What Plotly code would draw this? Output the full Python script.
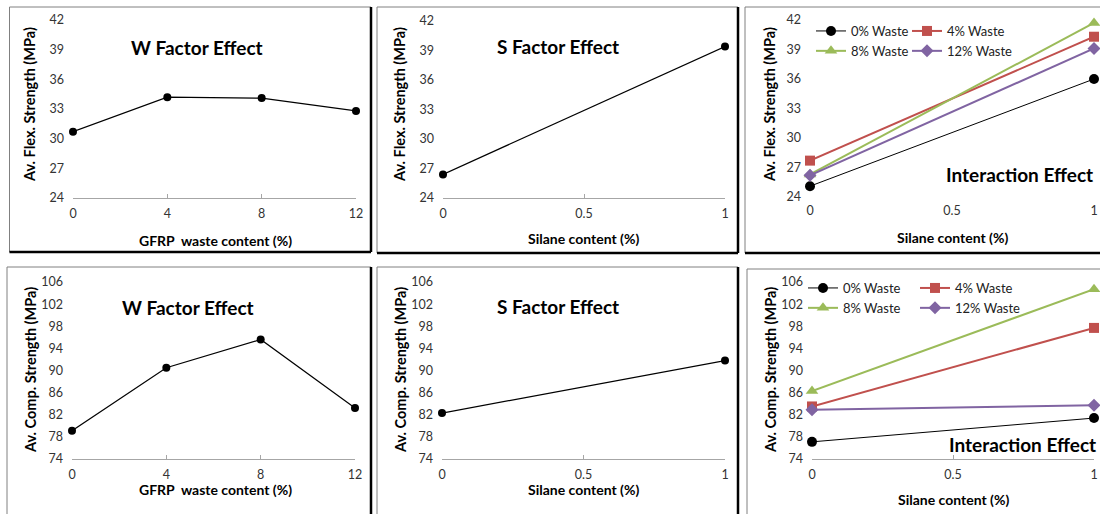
import plotly.graph_objects as go

# ---------------- data ----------------
waste_pct = [0, 4, 8, 12]
silane_pct = [0, 1]

flex_w_effect = [30.7, 34.2, 34.1, 32.8]
flex_s_effect = [26.4, 39.4]
comp_w_effect = [79.1, 90.5, 95.6, 83.2]
comp_s_effect = [82.3, 91.8]

series_names = ["0% Waste", "4% Waste", "8% Waste", "12% Waste"]
flex_int_0 = [25.1, 36.0]
flex_int_4 = [27.7, 40.3]
flex_int_8 = [26.3, 41.7]
flex_int_12 = [26.2, 39.1]
comp_int_0 = [77.1, 81.4]
comp_int_4 = [83.5, 97.7]
comp_int_8 = [86.3, 104.7]
comp_int_12 = [82.9, 83.7]

flex_ticks = [24, 27, 30, 33, 36, 39, 42]
comp_ticks = [74, 78, 82, 86, 90, 94, 98, 102, 106]
waste_ticks = [0, 4, 8, 12]
silane_ticks = [0, 0.5, 1]

W, H = 1100, 514
FONT = "Lato"

def dx(a, b):
    return [a / W, b / W]

def dy(top, bottom):
    return [1 - bottom / H, 1 - top / H]

def px(x):
    return x / W

def py(y):
    return 1 - y / H

fig = go.Figure()

# panel geometry (pixel boxes of plot areas)
panels = {
    1: dict(x=(73, 356), y=(20, 198)),
    2: dict(x=(443, 725), y=(21, 198)),
    3: dict(x=(810, 1094), y=(20, 197)),
    4: dict(x=(72, 355), y=(282, 459)),
    5: dict(x=(442, 725), y=(282, 459)),
    6: dict(x=(812, 1094), y=(282, 459)),
}

black_style = dict(mode="lines+markers", line=dict(color="black", width=1.2),
                   marker=dict(color="black", size=8, symbol="circle"),
                   showlegend=False, cliponaxis=False)

fig.add_trace(go.Scatter(x=waste_pct, y=flex_w_effect, xaxis="x", yaxis="y", **black_style))
fig.add_trace(go.Scatter(x=silane_pct, y=flex_s_effect, xaxis="x2", yaxis="y2", **black_style))
fig.add_trace(go.Scatter(x=waste_pct, y=comp_w_effect, xaxis="x4", yaxis="y4", **black_style))
fig.add_trace(go.Scatter(x=silane_pct, y=comp_s_effect, xaxis="x5", yaxis="y5", **black_style))

colors = ["black", "#C0504D", "#9BBB59", "#8064A2"]
symbols = ["circle", "square", "triangle-up", "diamond"]
sizes = [10, 10, 11, 10]
widths = [1, 2, 2, 2]

flex_int = [flex_int_0, flex_int_4, flex_int_8, flex_int_12]
comp_int = [comp_int_0, comp_int_4, comp_int_8, comp_int_12]
legend_top = ["legend", "legend2", "legend", "legend2"]
legend_bot = ["legend3", "legend4", "legend3", "legend4"]

for i in range(4):
    fig.add_trace(go.Scatter(
        x=silane_pct, y=flex_int[i], xaxis="x3", yaxis="y3", name=series_names[i],
        mode="lines+markers", line=dict(color=colors[i], width=widths[i]),
        marker=dict(color=colors[i], size=sizes[i], symbol=symbols[i]),
        legend=legend_top[i], cliponaxis=False))
for i in range(4):
    fig.add_trace(go.Scatter(
        x=silane_pct, y=comp_int[i], xaxis="x6", yaxis="y6", name=series_names[i],
        mode="lines+markers", line=dict(color=colors[i], width=widths[i]),
        marker=dict(color=colors[i], size=sizes[i], symbol=symbols[i]),
        legend=legend_bot[i], cliponaxis=False))

layout = dict(
    width=W, height=H, margin=dict(l=0, r=0, t=0, b=0, autoexpand=False),
    paper_bgcolor="white", plot_bgcolor="white",
    font=dict(family=FONT, color="#222222"),
    shapes=[], annotations=[],
)

xtick_sets = {1: waste_ticks, 2: silane_ticks, 3: silane_ticks,
              4: waste_ticks, 5: silane_ticks, 6: silane_ticks}
xranges = {1: [0, 12], 2: [0, 1], 3: [0, 1], 4: [0, 12], 5: [0, 1], 6: [0, 1]}
yticks = {1: flex_ticks, 2: flex_ticks, 3: flex_ticks,
          4: comp_ticks, 5: comp_ticks, 6: comp_ticks}

for i, p in panels.items():
    sfx = "" if i == 1 else str(i)
    yt = yticks[i]
    layout["xaxis" + sfx] = dict(
        domain=dx(*p["x"]), anchor="y" + sfx, range=xranges[i],
        tickvals=xtick_sets[i], ticktext=[("%g" % v) for v in xtick_sets[i]],
        showline=(i != 3), linecolor="#a6a6a6", linewidth=1,
        ticks="inside" if i != 3 else "", ticklen=4, tickcolor="#a6a6a6",
        showgrid=False, zeroline=False, ticklabelstandoff=4,
        tickfont=dict(size=12.5, color="#333333", family=FONT), fixedrange=True)
    layout["yaxis" + sfx] = dict(
        domain=dy(*p["y"]), anchor="x" + sfx, range=[yt[0], yt[-1]],
        tickvals=yt, showline=False, ticks="", showgrid=False, zeroline=False,
        ticklabelstandoff=8,
        tickfont=dict(size=12.5, color="#333333", family=FONT), fixedrange=True)

# legends
leg_common = dict(xanchor="left", yanchor="top", bgcolor="rgba(0,0,0,0)",
                  borderwidth=0, itemwidth=30, tracegroupgap=0,
                  font=dict(size=13, color="#222222", family=FONT),
                  orientation="v", itemclick=False, itemdoubleclick=False)
layout["legend"] = dict(x=px(811), y=py(16), **leg_common)
layout["legend2"] = dict(x=px(907), y=py(16), **leg_common)
layout["legend3"] = dict(x=px(803), y=py(273), **leg_common)
layout["legend4"] = dict(x=px(915), y=py(273), **leg_common)

# panel frames
frames = [
    (9.5, 371, 7, 252),
    (377, 738, 7, 253),
    (745, 1110, 7, 253),
    (7, 371, 267, 525),
    (377, 738, 267, 525),
    (747, 1110, 269, 525),
]
for (x0, x1, y0, y1) in frames:
    layout["shapes"].append(dict(type="rect", xref="paper", yref="paper",
                                 x0=px(x0), x1=px(x1), y0=py(y1), y1=py(y0),
                                 line=dict(color="#808080", width=1), layer="below"))
    layout["shapes"].append(dict(type="line", xref="paper", yref="paper",
                                 x0=px(x0), x1=px(x1), y0=py(y1), y1=py(y1),
                                 line=dict(color="black", width=2.5)))
    layout["shapes"].append(dict(type="line", xref="paper", yref="paper",
                                 x0=px(x1), x1=px(x1), y0=py(y0), y1=py(y1),
                                 line=dict(color="black", width=2.5)))

def ann(text, x, y, size, angle=0):
    layout["annotations"].append(dict(
        text=text, x=px(x), y=py(y), xref="paper", yref="paper",
        xanchor="center", yanchor="middle", showarrow=False, textangle=angle,
        font=dict(family=FONT, size=size, color="black", weight="bold")))

# chart titles
ann("W Factor Effect", 197, 47, 19)
ann("S Factor Effect", 558, 46, 19)
ann("Interaction Effect", 1019, 174, 19)
ann("W Factor Effect", 188, 307, 19)
ann("S Factor Effect", 558, 306, 19)
ann("Interaction Effect", 1022, 444, 19)

# axis titles
ann("GFRP  waste content (%)", 215, 240, 14)
ann("Silane content (%)", 583, 238, 14)
ann("Silane content (%)", 952, 237, 14)
ann("GFRP  waste content (%)", 215, 489, 14)
ann("Silane content (%)", 583, 489, 14)
ann("Silane content (%)", 953, 499, 14)

ann("Av. Flex. Strength (MPa)", 30, 105, 14.5, -90)
ann("Av. Flex. Strength (MPa)", 400, 105, 14.5, -90)
ann("Av. Flex. Strength (MPa)", 770, 105, 14.5, -90)
ann("Av. Comp. Strength (MPa)", 30, 370, 14.5, -90)
ann("Av. Comp. Strength (MPa)", 400, 370, 14.5, -90)
ann("Av. Comp. Strength (MPa)", 770, 370, 14.5, -90)

fig.update_layout(**layout)
fig.write_html("out.html",
               config={"displayModeBar": False},
               post_script="document.body.style.margin='0px';"
                           "document.body.style.overflow='hidden';")
